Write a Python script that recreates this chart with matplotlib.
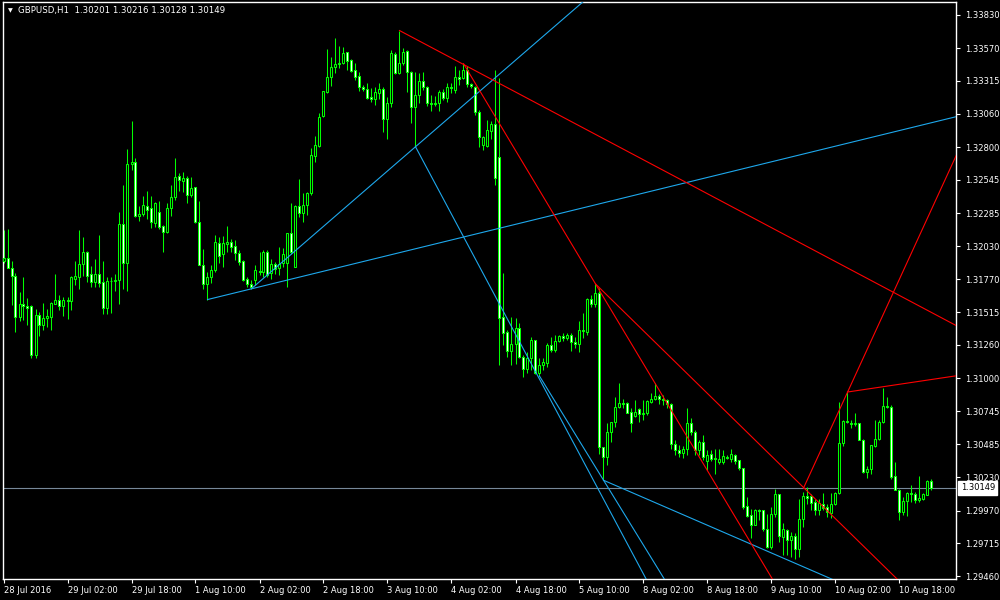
import numpy as np
import matplotlib
matplotlib.use("Agg")
import matplotlib.pyplot as plt

plt.rcParams['font.family'] = ['DejaVu Sans']

symbol_title = "GBPUSD,H1  1.30201 1.30216 1.30128 1.30149"
last_price = 1.30149

# OHLC values per H1 bar
opens = [
    1.31915, 1.31933, 1.31855, 1.31795, 1.31478, 1.31582, 1.31566, 1.31561, 1.31179, 1.31491,
    1.31413, 1.31473, 1.31478, 1.31582, 1.31613, 1.31561, 1.31613, 1.31603, 1.31772, 1.31790,
    1.31889, 1.31980, 1.31811, 1.31751, 1.31811, 1.31746, 1.31551, 1.31754, 1.31759, 1.31769,
    1.32198, 1.31894, 1.32666, 1.32684, 1.32266, 1.32276, 1.32339, 1.32323, 1.32206, 1.32292,
    1.32185, 1.32141, 1.32323, 1.32414, 1.32573, 1.32539, 1.32557, 1.32424, 1.32487, 1.32214,
    1.31886, 1.31738, 1.31790, 1.31842, 1.32050, 1.31964, 1.32045, 1.32062, 1.32032, 1.31979,
    1.31914, 1.31776, 1.31737, 1.31768, 1.31836, 1.31828, 1.31984, 1.31820, 1.31893, 1.31862,
    1.31898, 1.31901, 1.32135, 1.31867, 1.32340, 1.32288, 1.32348, 1.32439, 1.32730, 1.32811,
    1.33042, 1.33232, 1.33349, 1.33422, 1.33445, 1.33453, 1.33539, 1.33479, 1.33401, 1.33354,
    1.33266, 1.33253, 1.33190, 1.33177, 1.33224, 1.33250, 1.33016, 1.33146, 1.33526, 1.33375,
    1.33453, 1.33549, 1.33388, 1.33115, 1.33206, 1.33318, 1.33266, 1.33141, 1.33136, 1.33141,
    1.33227, 1.33180, 1.33268, 1.33245, 1.33344, 1.33341, 1.33401, 1.33292, 1.33271, 1.33071,
    1.32816, 1.32811, 1.32928, 1.32980, 1.32720, 1.31475, 1.31358, 1.31215, 1.31267, 1.31389,
    1.31163, 1.31072, 1.31155, 1.31298, 1.31038, 1.31103, 1.31121, 1.31259, 1.31220, 1.31293,
    1.31329, 1.31316, 1.31337, 1.31285, 1.31267, 1.31376, 1.31363, 1.31615, 1.31576, 1.31667,
    1.30461, 1.30388, 1.30583, 1.30656, 1.30773, 1.30804, 1.30804, 1.30739, 1.30708, 1.30757,
    1.30721, 1.30726, 1.30817, 1.30835, 1.30864, 1.30840, 1.30830, 1.30800, 1.30489, 1.30440,
    1.30420, 1.30450, 1.30652, 1.30582, 1.30440, 1.30505, 1.30357, 1.30414, 1.30380, 1.30349,
    1.30349, 1.30388, 1.30372, 1.30406, 1.30362, 1.30305, 1.30003, 1.29933, 1.29860, 1.29972,
    1.29972, 1.29829, 1.29686, 1.29946, 1.30102, 1.29764, 1.29821, 1.29743, 1.29769, 1.29668,
    1.29907, 1.30081, 1.30081, 1.30037, 1.29972, 1.30024, 1.29998, 1.29951, 1.30024, 1.30107,
    1.30497, 1.30664, 1.30653, 1.30643, 1.30648, 1.30523, 1.30271, 1.30292, 1.30471, 1.30526,
    1.30656, 1.30783, 1.30773, 1.30237, 1.30133, 1.29959, 1.30042, 1.30110, 1.30102, 1.30055,
    1.30063, 1.30094, 1.30201,
]
highs = [
    1.32154, 1.32162, 1.31912, 1.31816, 1.31670, 1.31787, 1.31624, 1.31569, 1.31543, 1.31514,
    1.31585, 1.31538, 1.31592, 1.31813, 1.31647, 1.31634, 1.31634, 1.31795, 1.31912, 1.32154,
    1.32099, 1.31993, 1.31876, 1.31928, 1.32115, 1.31912, 1.31785, 1.31785, 1.31811, 1.32294,
    1.32505, 1.32783, 1.33004, 1.32718, 1.32341, 1.32419, 1.32461, 1.32419, 1.32370, 1.32380,
    1.32196, 1.32367, 1.32505, 1.32713, 1.32599, 1.32609, 1.32575, 1.32570, 1.32487, 1.32380,
    1.32006, 1.31824, 1.31886, 1.32115, 1.32097, 1.32110, 1.32185, 1.32083, 1.32075, 1.31997,
    1.31924, 1.31789, 1.31763, 1.31880, 1.31984, 1.31997, 1.32002, 1.31932, 1.31906, 1.32023,
    1.32018, 1.32135, 1.32366, 1.32348, 1.32548, 1.32439, 1.32452, 1.32790, 1.32886, 1.33063,
    1.33237, 1.33565, 1.33500, 1.33648, 1.33588, 1.33583, 1.33544, 1.33484, 1.33453, 1.33388,
    1.33284, 1.33297, 1.33258, 1.33271, 1.33302, 1.33271, 1.33188, 1.33557, 1.33544, 1.33708,
    1.33570, 1.33557, 1.33396, 1.33388, 1.33380, 1.33388, 1.33276, 1.33206, 1.33198, 1.33245,
    1.33250, 1.33297, 1.33297, 1.33432, 1.33401, 1.33450, 1.33432, 1.33302, 1.33276, 1.33089,
    1.32886, 1.33011, 1.33006, 1.33401, 1.33336, 1.31818, 1.31376, 1.31480, 1.31467, 1.31428,
    1.31181, 1.31207, 1.31324, 1.31298, 1.31155, 1.31155, 1.31277, 1.31324, 1.31337, 1.31337,
    1.31350, 1.31355, 1.31350, 1.31324, 1.31449, 1.31506, 1.31623, 1.31649, 1.31735, 1.31700,
    1.30466, 1.30653, 1.30661, 1.30856, 1.30960, 1.30835, 1.30817, 1.30765, 1.30830, 1.30765,
    1.30830, 1.30830, 1.30882, 1.30960, 1.30880, 1.30870, 1.30840, 1.30805, 1.30520, 1.30480,
    1.30470, 1.30769, 1.30691, 1.30600, 1.30520, 1.30558, 1.30440, 1.30440, 1.30448, 1.30448,
    1.30445, 1.30401, 1.30453, 1.30414, 1.30362, 1.30305, 1.30076, 1.29985, 1.29980, 1.29980,
    1.29972, 1.29946, 1.29998, 1.30136, 1.30102, 1.29876, 1.29829, 1.29803, 1.29795, 1.30063,
    1.30115, 1.30154, 1.30102, 1.30063, 1.30063, 1.30107, 1.30024, 1.30107, 1.30115, 1.30817,
    1.30674, 1.30895, 1.30674, 1.30731, 1.30653, 1.30531, 1.30315, 1.30479, 1.30679, 1.30674,
    1.30926, 1.30856, 1.30791, 1.30349, 1.30141, 1.30076, 1.30115, 1.30172, 1.30115, 1.30240,
    1.30107, 1.30211, 1.30216,
]
lows = [
    1.31894, 1.31855, 1.31569, 1.31361, 1.31447, 1.31452, 1.31413, 1.31161, 1.31161, 1.31330,
    1.31374, 1.31400, 1.31374, 1.31577, 1.31535, 1.31486, 1.31460, 1.31535, 1.31725, 1.31694,
    1.31798, 1.31751, 1.31707, 1.31707, 1.31707, 1.31504, 1.31504, 1.31509, 1.31681, 1.31579,
    1.31699, 1.31681, 1.32622, 1.32253, 1.32227, 1.32266, 1.32237, 1.32172, 1.32180, 1.32162,
    1.31985, 1.32128, 1.32266, 1.32388, 1.32461, 1.32453, 1.32367, 1.32409, 1.32206, 1.31881,
    1.31699, 1.31613, 1.31743, 1.31829, 1.31894, 1.31868, 1.31985, 1.31984, 1.31924, 1.31880,
    1.31758, 1.31711, 1.31698, 1.31724, 1.31802, 1.31789, 1.31789, 1.31776, 1.31815, 1.31802,
    1.31867, 1.31711, 1.31971, 1.31867, 1.32257, 1.32218, 1.32270, 1.32426, 1.32686, 1.32803,
    1.33037, 1.33224, 1.33279, 1.33375, 1.33414, 1.33448, 1.33401, 1.33388, 1.33323, 1.33240,
    1.33235, 1.33175, 1.33149, 1.33128, 1.33172, 1.32920, 1.32860, 1.33115, 1.33367, 1.33370,
    1.33440, 1.33232, 1.32990, 1.32803, 1.33141, 1.33245, 1.33120, 1.33084, 1.33120, 1.33084,
    1.33167, 1.33154, 1.33219, 1.33219, 1.33284, 1.33328, 1.33271, 1.33258, 1.33050, 1.32803,
    1.32777, 1.32803, 1.32860, 1.32504, 1.31100, 1.31259, 1.31168, 1.31103, 1.31111, 1.31155,
    1.31012, 1.31038, 1.31064, 1.31033, 1.31017, 1.31064, 1.31090, 1.31207, 1.31207, 1.31285,
    1.31293, 1.31298, 1.31215, 1.31233, 1.31207, 1.31311, 1.31337, 1.31558, 1.31553, 1.30414,
    1.30206, 1.30328, 1.30505, 1.30622, 1.30765, 1.30765, 1.30726, 1.30583, 1.30700, 1.30661,
    1.30674, 1.30713, 1.30804, 1.30830, 1.30800, 1.30795, 1.30770, 1.30450, 1.30400, 1.30390,
    1.30380, 1.30400, 1.30560, 1.30400, 1.30400, 1.30363, 1.30284, 1.30354, 1.30258, 1.30336,
    1.30336, 1.30375, 1.30349, 1.30336, 1.30289, 1.29985, 1.29920, 1.29759, 1.29855, 1.29894,
    1.29811, 1.29681, 1.29673, 1.29920, 1.29725, 1.29621, 1.29621, 1.29608, 1.29595, 1.29608,
    1.29842, 1.30024, 1.29972, 1.29933, 1.29933, 1.29972, 1.29920, 1.29915, 1.30011, 1.30102,
    1.30471, 1.30648, 1.30609, 1.30627, 1.30518, 1.30263, 1.30227, 1.30258, 1.30466, 1.30518,
    1.30648, 1.30765, 1.30219, 1.30128, 1.29894, 1.29933, 1.29925, 1.30037, 1.30029, 1.30037,
    1.30050, 1.30089, 1.30128,
]
closes = [
    1.31933, 1.31855, 1.31798, 1.31478, 1.31582, 1.31564, 1.31548, 1.31179, 1.31491, 1.31413,
    1.31473, 1.31483, 1.31590, 1.31613, 1.31561, 1.31613, 1.31603, 1.31785, 1.31795, 1.31889,
    1.31980, 1.31798, 1.31751, 1.31811, 1.31743, 1.31551, 1.31754, 1.31759, 1.31769, 1.32198,
    1.31899, 1.32669, 1.32684, 1.32266, 1.32276, 1.32346, 1.32313, 1.32219, 1.32362, 1.32180,
    1.32141, 1.32323, 1.32414, 1.32570, 1.32541, 1.32557, 1.32424, 1.32484, 1.32214, 1.31886,
    1.31738, 1.31790, 1.31842, 1.32058, 1.31951, 1.32050, 1.32058, 1.32023, 1.31972, 1.31906,
    1.31768, 1.31732, 1.31711, 1.31841, 1.31828, 1.31984, 1.31802, 1.31893, 1.31854, 1.31888,
    1.31971, 1.32135, 1.31984, 1.32340, 1.32288, 1.32353, 1.32444, 1.32738, 1.32816, 1.33037,
    1.33237, 1.33349, 1.33422, 1.33448, 1.33453, 1.33531, 1.33474, 1.33396, 1.33349, 1.33271,
    1.33250, 1.33185, 1.33177, 1.33229, 1.33250, 1.33016, 1.33146, 1.33531, 1.33375, 1.33453,
    1.33544, 1.33388, 1.33110, 1.33206, 1.33315, 1.33266, 1.33141, 1.33136, 1.33146, 1.33227,
    1.33180, 1.33271, 1.33258, 1.33344, 1.33333, 1.33401, 1.33292, 1.33276, 1.33071, 1.32881,
    1.32876, 1.32933, 1.32980, 1.32556, 1.31472, 1.31355, 1.31215, 1.31267, 1.31389, 1.31163,
    1.31072, 1.31155, 1.31298, 1.31038, 1.31103, 1.31129, 1.31259, 1.31220, 1.31293, 1.31329,
    1.31316, 1.31337, 1.31285, 1.31267, 1.31376, 1.31368, 1.31615, 1.31576, 1.31667, 1.30461,
    1.30388, 1.30578, 1.30656, 1.30778, 1.30804, 1.30799, 1.30731, 1.30653, 1.30739, 1.30721,
    1.30726, 1.30822, 1.30838, 1.30864, 1.30840, 1.30830, 1.30796, 1.30489, 1.30440, 1.30420,
    1.30450, 1.30652, 1.30582, 1.30440, 1.30500, 1.30388, 1.30406, 1.30370, 1.30372, 1.30375,
    1.30393, 1.30380, 1.30414, 1.30354, 1.30305, 1.29998, 1.29928, 1.29860, 1.29972, 1.29967,
    1.29824, 1.29686, 1.29946, 1.30102, 1.29772, 1.29829, 1.29743, 1.29769, 1.29668, 1.29907,
    1.30081, 1.30071, 1.30029, 1.29972, 1.30029, 1.29993, 1.29959, 1.30024, 1.30107, 1.30497,
    1.30664, 1.30656, 1.30643, 1.30648, 1.30523, 1.30271, 1.30297, 1.30479, 1.30531, 1.30656,
    1.30783, 1.30773, 1.30232, 1.30133, 1.29959, 1.30042, 1.30110, 1.30102, 1.30055, 1.30068,
    1.30097, 1.30198, 1.30149,
]

# time axis labels (one every 16 bars)
time_labels = ["28 Jul 2016", "29 Jul 02:00", "29 Jul 18:00", "1 Aug 10:00", "2 Aug 02:00",
               "2 Aug 18:00", "3 Aug 10:00", "4 Aug 02:00", "4 Aug 18:00", "5 Aug 10:00",
               "8 Aug 02:00", "8 Aug 18:00", "9 Aug 10:00", "10 Aug 02:00", "10 Aug 18:00"]
label_step = 16

price_ticks = [1.33830, 1.33570, 1.33315, 1.33060, 1.32800, 1.32545, 1.32285, 1.32030, 1.31770,
               1.31515, 1.31260, 1.31000, 1.30745, 1.30485, 1.30230, 1.29970, 1.29715, 1.29460]

# trend lines drawn as rays: (bar1, price1, bar2, price2)
blue_lines = [
    (51, 1.31613, 237.9, 1.33035),
    (62, 1.31698, 103, 1.32803),
    (103, 1.32803, 160.4, 1.29452),
    (134, 1.31017, 164.9, 1.29452),
    (150, 1.30206, 205.9, 1.29452),
]
red_lines = [
    (99, 1.33708, 237.9, 1.31415),
    (115, 1.33450, 148, 1.31735),
    (148, 1.31735, 222.9, 1.29452),
    (200, 1.30145, 237.9, 1.32716),
    (211, 1.30893, 237.9, 1.31018),
]

o = np.array(opens)
h = np.array(highs)
l = np.array(lows)
c = np.array(closes)
x = np.arange(len(o))
bull = c >= o

fig = plt.figure(figsize=(10, 6), dpi=100, facecolor="black")
ax = fig.add_axes([0.0025, 0.035, 0.954, 0.961])
ax.set_facecolor("black")

green = "#00ff00"
ax.vlines(x, l, h, color=green, lw=0.75, zorder=2)
bottoms = np.minimum(o, c)
heights = np.maximum(np.abs(c - o), 0.00004)
ax.bar(x, heights, bottom=bottoms, width=0.5, color=np.where(bull, "black", "white"),
       edgecolor=green, linewidth=0.75, zorder=3)

ax.axhline(last_price, color="#778899", lw=0.8, zorder=1)

def draw_ray(line, color):
    x1, p1, x2, p2 = line
    k = (p2 - p1) / (x2 - x1)
    xs = np.array([x1, 400.0])
    ax.plot(xs, p1 + k * (xs - x1), color=color, lw=0.8, zorder=4)

for ln in blue_lines:
    draw_ray(ln, "#1ea8ec")
for ln in red_lines:
    draw_ray(ln, "#ff0000")

ax.set_xlim(-0.25, 238.25)
ax.set_ylim(1.29437, 1.33927)

for sp in ax.spines.values():
    sp.set_color("white")
    sp.set_linewidth(1)

ax.set_xticks(np.arange(len(time_labels)) * label_step)
ax.set_xticklabels(time_labels, ha="left")
ax.yaxis.tick_right()
ax.set_yticks(price_ticks)
ax.set_yticklabels([f"{v:.5f}" for v in price_ticks])
ax.tick_params(axis="both", colors="white", labelcolor="white", labelsize=6, length=3, width=0.8)
ax.tick_params(axis="x", pad=2)
ax.tick_params(axis="y", pad=3)

ax.annotate(f"{last_price:.5f}", xy=(1.0, last_price), xycoords=("axes fraction", "data"),
            xytext=(3, 0), textcoords="offset points", va="center", ha="left",
            fontsize=6, color="black",
            bbox=dict(boxstyle="square,pad=0.3", fc="white", ec="white"))

fig.text(0.008, 1 - 11 / 600, "\u25bc", color="white", fontsize=4.5, va="center")
fig.text(0.018, 1 - 11 / 600, symbol_title, color="white", fontsize=6.2, va="center")

fig.savefig("out.png", dpi=100, facecolor="black")
